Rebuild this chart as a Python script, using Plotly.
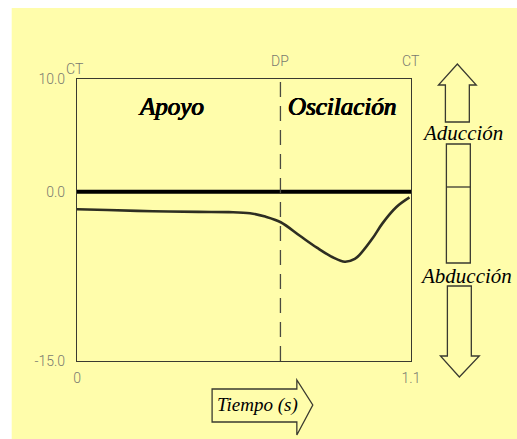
import plotly.graph_objects as go

# Hip ab/adduction angle over one gait cycle (degrees)
time_s = [0.0, 0.10, 0.25, 0.40, 0.50, 0.57, 0.62, 0.671, 0.734, 0.79,
          0.842, 0.882, 0.915, 0.935, 0.974, 1.006, 1.052, 1.095]
angle_deg = [-1.55, -1.62, -1.72, -1.78, -1.80, -1.90, -2.2, -2.7, -3.9, -4.95,
             -5.8, -6.2, -5.95, -5.45, -4.1, -2.8, -1.35, -0.5]

# Gait events: initial contact (CT) and toe-off (DP)
event_x = [0.0, 0.67, 1.1]
event_labels = ["CT", "DP", "CT"]

y_tickvals = [10, 0, -15]
y_ticktext = ["10.0", "0.0", "-15.0"]
x_tickvals = [0, 1.1]
x_ticktext = ["0", "1.1"]

phase_labels = ["Apoyo", "Oscilación"]
phase_x = [0.31, 0.873]

W, H = 517, 439
L, R, T, B = 76.5, 411.5, 79.0, 361.0
BG = "#FFFDAB"
INK = "#2e2e22"
GRAY = "#7a7a70"
TICKFONT = "Roboto"
SERIF = "Liberation Serif"


def px(x):
    return (x - L) / (R - L)


def py(y):
    return (B - y) / (B - T)


fig = go.Figure()

fig.add_trace(go.Scatter(
    x=time_s, y=angle_deg, mode="lines",
    line=dict(color=INK, width=2.6, shape="spline", smoothing=1.0),
    hoverinfo="skip", showlegend=False,
))

shapes = []
# page background (white strip along left and top edges)
shapes.append(dict(type="rect", xref="paper", yref="paper", layer="below",
                   x0=px(11), x1=px(W + 5), y0=py(H + 5), y1=py(8),
                   fillcolor=BG, line=dict(width=0)))
# neutral (0°) line
shapes.append(dict(type="line", xref="x", yref="y", x0=0, x1=1.1, y0=0, y1=0,
                   line=dict(color="black", width=4)))
# toe-off divider
shapes.append(dict(type="line", xref="x", yref="y", x0=event_x[1], x1=event_x[1],
                   y0=-15, y1=10, line=dict(color="#4a4a40", width=1.3, dash="15px,9px")))


def poly(points):
    d = "M " + " L ".join(f"{px(a):.5f},{py(b):.5f}" for a, b in points) + " Z"
    return dict(type="path", xref="paper", yref="paper", path=d,
                line=dict(color="#3a3a30", width=1.3), fillcolor="rgba(0,0,0,0)")


# up arrow (adduction)
shapes.append(poly([(446, 122), (446, 85), (439, 85), (458, 64), (477, 85),
                    (470, 85), (470, 122)]))
# scale box with neutral mark
shapes.append(dict(type="rect", xref="paper", yref="paper",
                   x0=px(447), x1=px(471), y0=py(263), y1=py(144),
                   line=dict(color="#3a3a30", width=1.3)))
shapes.append(dict(type="line", xref="paper", yref="paper",
                   x0=px(447), x1=px(471), y0=py(187), y1=py(187),
                   line=dict(color="#3a3a30", width=1.3)))
# down arrow (abduction)
shapes.append(poly([(448, 286), (472, 286), (472, 356), (480, 356), (460, 377),
                    (441, 356), (448, 356)]))
# time arrow
shapes.append(poly([(212, 389), (297, 389), (297, 380), (313, 405), (297, 435),
                    (297, 422), (212, 422)]))

annotations = []
# phase titles: italic serif, thickened with a tight text shadow
heavy = "0.6px 0 0 black, -0.6px 0 0 black, 0 0.3px 0 black"
for xv, lab in zip(phase_x, phase_labels):
    annotations.append(dict(x=xv, y=py(106), xref="x", yref="paper", text=lab,
                            showarrow=False,
                            font=dict(family=SERIF, size=25, color="black",
                                      style="italic", shadow=heavy),
                            xanchor="center", yanchor="middle"))
for i, (xv, lab) in enumerate(zip(event_x, event_labels)):
    annotations.append(dict(x=xv, y=1, xref="x", yref="paper", text=lab, showarrow=False,
                            font=dict(family=TICKFONT, size=14, color=GRAY, weight=300),
                            xanchor="center", yanchor="bottom",
                            yshift=0 if i == 0 else 8, xshift=-2 if i == 0 else 0))
annotations.append(dict(x=px(463), y=py(133), xref="paper", yref="paper", text="Aducción",
                        showarrow=False, font=dict(family=SERIF, size=21, color="black", style="italic"),
                        xanchor="center", yanchor="middle"))
annotations.append(dict(x=px(467), y=py(276), xref="paper", yref="paper", text="Abducción",
                        showarrow=False, font=dict(family=SERIF, size=21, color="black", style="italic"),
                        xanchor="center", yanchor="middle"))
annotations.append(dict(x=px(258), y=py(405), xref="paper", yref="paper", text="Tiempo (s)",
                        showarrow=False, font=dict(family=SERIF, size=19, color="black", style="italic"),
                        xanchor="center", yanchor="middle"))

tickfont = dict(family=TICKFONT, size=14, color=GRAY, weight=300)
fig.update_layout(
    width=W, height=H,
    margin=dict(l=L, r=W - R, t=T, b=H - B, pad=0),
    paper_bgcolor="white", plot_bgcolor="rgba(0,0,0,0)",
    shapes=shapes, annotations=annotations, showlegend=False,
    xaxis=dict(range=[0, 1.1], tickvals=x_tickvals, ticktext=x_ticktext,
               showgrid=False, zeroline=False, showline=True, mirror=True,
               linecolor="#3a3a30", linewidth=1.3, ticks="",
               tickfont=tickfont, ticklabelstandoff=4),
    yaxis=dict(range=[-15, 10], tickvals=y_tickvals, ticktext=y_ticktext,
               showgrid=False, zeroline=False, showline=True, mirror=True,
               linecolor="#3a3a30", linewidth=1.3, ticks="",
               tickfont=tickfont, ticklabelstandoff=8),
)

fig.write_html("out.html")
